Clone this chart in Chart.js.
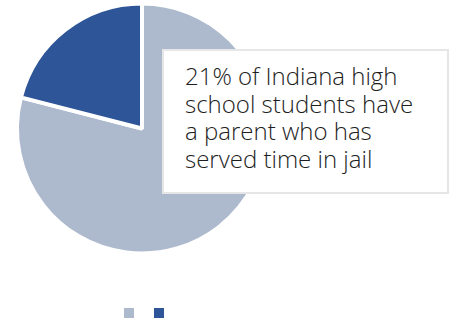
<!DOCTYPE html>
<html>
<head>
<meta charset="utf-8">
<script src="https://cdn.jsdelivr.net/npm/chart.js@4.4.1/dist/chart.umd.min.js"></script>
<style>
  html, body { margin: 0; padding: 0; background: #fff; overflow: hidden; }
  #wrap { position: relative; width: 451px; height: 320px; overflow: hidden; }
  #chartBox { position: absolute; left: 0; top: -36px; width: 451px; height: 365px; }
  #nota {
    position: absolute; left: 162px; top: 49px; width: 287px; height: 145px;
    box-sizing: border-box; background: #fff; border: 2px solid #e6e6e6;
    padding: 11px 0 0 21px;
    font-family: "Open Sans", sans-serif; font-weight: 300; font-size: 24px;
    line-height: 27.5px; color: #1e1e1e; white-space: nowrap;
  }
</style>
</head>
<body>
<div id="wrap">
  <div id="chartBox"><canvas id="grafico"></canvas></div>
  <div id="nota">21% of Indiana high<br>school students have<br>a parent who has<br>served time in jail</div>
</div>
<script>
  // fatias: alunos sem / com pai ou mãe que já esteve preso
  const categorias = ["Parent has not served time in jail", "Parent has served time in jail"];
  const percentuais = [79, 21];
  const cores = ["#adb9cd", "#2e5597"];

  // empurra os quadradinhos da legenda um pouco para a direita
  const deslocaLegenda = {
    id: "deslocaLegenda",
    afterLayout(chart) {
      if (!chart.legend) return;
      chart.legend.left += 5;
      chart.legend.right += 5;
    }
  };

  new Chart(document.getElementById("grafico"), {
    type: "pie",
    data: {
      labels: categorias,
      datasets: [{ data: percentuais, backgroundColor: cores, borderColor: "#fff", borderWidth: 4 }]
    },
    options: {
      responsive: true,
      maintainAspectRatio: false,
      animation: false,
      layout: { padding: { left: 15, right: 182, top: 0, bottom: 0 } },
      plugins: {
        tooltip: { enabled: false },
        legend: {
          position: "bottom",
          labels: {
            boxWidth: 10,
            boxHeight: 10,
            padding: 14,
            generateLabels(chart) {
              // só os quadradinhos, sem texto
              return Chart.overrides.pie.plugins.legend.labels.generateLabels(chart)
                .map(item => ({ ...item, text: "", strokeStyle: item.fillStyle, lineWidth: 0 }));
            }
          }
        }
      }
    },
    plugins: [deslocaLegenda]
  });
</script>
</body>
</html>
